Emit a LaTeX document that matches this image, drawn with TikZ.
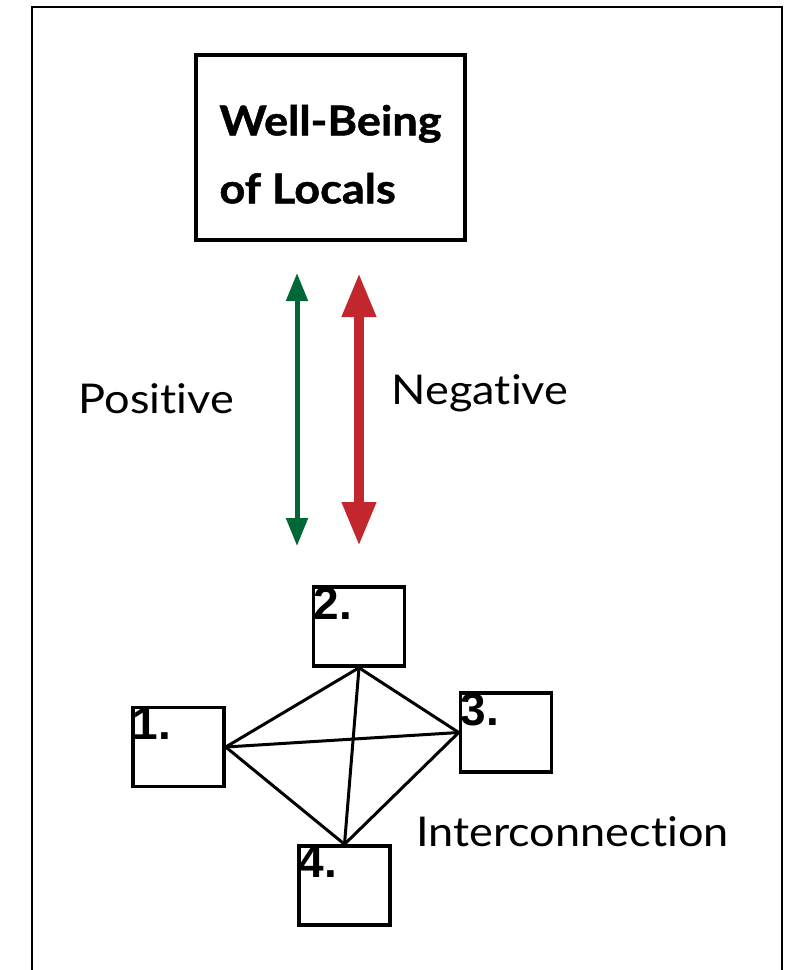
\documentclass[tikz,border=0pt]{standalone}
\usepackage{fontspec}
\setmainfont[Ligatures=NoCommon, FakeStretch=1.1]{Lato}
\newfontfamily\titlefont[Ligatures=NoCommon, FakeStretch=1.1,
  BoldFeatures={FakeBold=1.2}]{Lato}
\newfontfamily\numfont{Liberation Sans}
\usetikzlibrary{arrows.meta}
\definecolor{posgreen}{RGB}{0,104,55}
\definecolor{negred}{RGB}{193,39,45}
\begin{document}
\begin{tikzpicture}[x=1pt, y=-1pt,
      every node/.style = {font=\fontsize{41}{68}\selectfont},
      mainbox/.style = {draw, line width=4pt, minimum width=269pt,
        minimum height=185pt, align=left, text height=112pt,
        font=\fontsize{41}{68}\selectfont\titlefont\bfseries},
      numbox/.style = {draw, line width=3.5pt, minimum width=91pt,
        minimum height=79pt, inner sep=0pt},
      numtext/.style = {anchor=north west, inner sep=0pt,
        font=\fontsize{46}{46}\selectfont\numfont\bfseries},
      link/.style = {line width=3pt}]
    \useasboundingbox (0,0) rectangle (793,970);
    \draw[line width=2pt] (32,970) -- (32,7) -- (782,7) -- (782,970);
    \node[mainbox] (wellbeing) at (330.5,147.5) {Well-Being\\of Locals};
    \coordinate (postop) at (297,273);
    \coordinate (posbot) at (297,546);
    \coordinate (negtop) at (359,273);
    \coordinate (negbot) at (359,546);
    \draw[posgreen, line width=5pt,
      {Triangle[width=21pt, length=28pt]}-{Triangle[width=21pt, length=28pt]}]
      (postop) -- (posbot);
    \draw[negred, line width=10pt,
      {Triangle[width=32pt, length=44pt]}-{Triangle[width=32pt, length=44pt]}]
      (negtop) -- (negbot);
    \node[anchor=base] (positive) at (156.5,413) {Positive};
    \node[anchor=base] (negative) at (480,404) {Negative};
    \node (b1) [numbox] at (178.5,747) {};
    \node (b2) [numbox] at (359,626.5) {};
    \node (b3) [numbox] at (506,732.5) {};
    \node (b4) [numbox] at (344.5,885.5) {};
    \foreach \b/\t in {b1/1., b2/2., b3/3., b4/4.}
      \node[numtext] (\b text) at ([xshift=1.5pt, yshift=-1.5pt]\b.north west) {\t};
    \draw[link] (b1.east) -- (b2.south);
    \draw[link] (b1.east) -- (b3.west);
    \draw[link] (b1.east) -- (b4.north);
    \draw[link] (b2.south) -- (b3.west);
    \draw[link] (b2.south) -- (b4.north);
    \draw[link] (b3.west) -- (b4.north);
    \node[anchor=base] (interconnection) at (572.5,846) {Interconnection};
  \end{tikzpicture}
\end{document}
